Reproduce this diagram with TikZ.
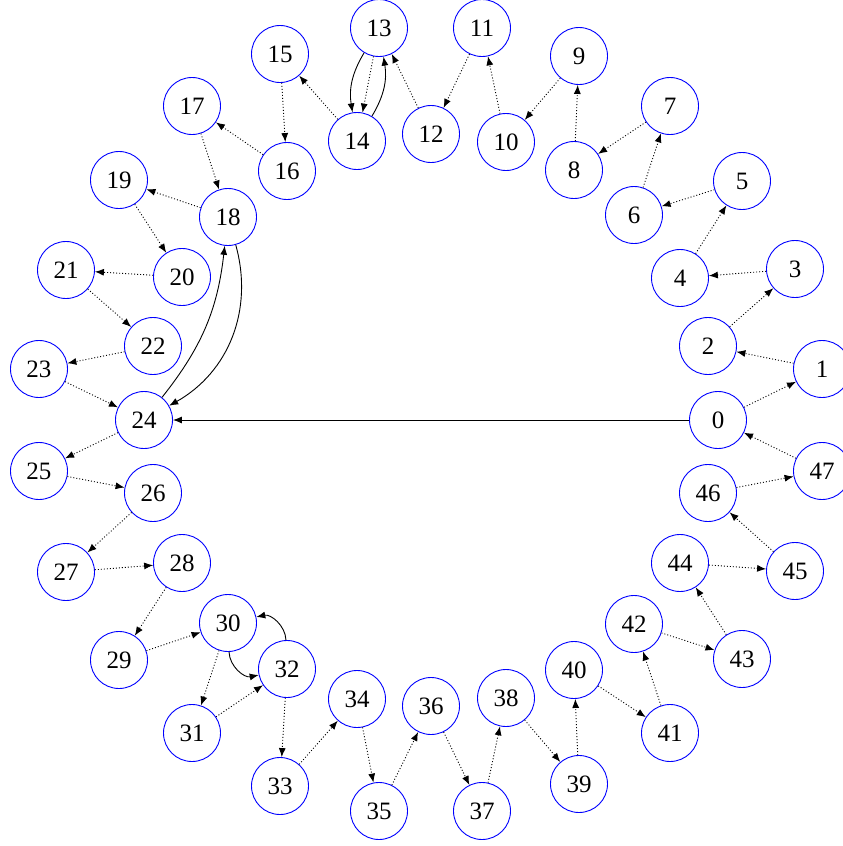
\documentclass[tikz,border=0pt]{standalone}
\usepackage{fontspec}
\setmainfont{Liberation Serif}
\usetikzlibrary{arrows.meta}
\begin{document}
\begin{tikzpicture}[x=1pt,y=-1pt,
  vtx/.style={circle,draw=blue,line width=0.9pt,minimum size=57pt,inner sep=0pt,font=\fontsize{25}{30}\selectfont},
  dotedge/.style={line width=0.9pt,dash pattern=on 1pt off 2pt,-{Latex[length=9pt,width=7pt]}},
  soledge/.style={line width=0.9pt,-{Latex[length=9pt,width=7pt]}}]
\useasboundingbox (0,0) rectangle (843,846);
\foreach \n/\x/\y in {0/718/420,1/822/369,2/708/346,3/795/269,4/680/278,5/742/181,6/634/215,7/670/106,8/574/170,9/579/56,10/506/142,11/482/28,12/431/134,13/379/28,14/357/141,15/280/54,16/287/171,17/192/106,18/228/217,19/119/180,20/182/277,21/66/270,22/153/346,23/39/369,24/144/420,25/39/471,26/153/493,27/66/572,28/182/563,29/119/660,30/228/623,31/192/733,32/287/669,33/280/786,34/357/699,35/379/811,36/431/706,37/482/811,38/506/698,39/579/784,40/574/670,41/670/733,42/634/624,43/742/659,44/680/563,45/795/571,46/708/493,47/822/471}
  \node[vtx] (n\n) at (\x,\y) {\n};
\foreach \a in {0,...,46}{
  \pgfmathtruncatemacro\b{\a+1}
  \draw[dotedge] (n\a) -- (n\b);
}
\draw[dotedge] (n47) -- (n0);
\draw[soledge] (n0) -- (n24);
\draw[soledge] (n13) to[bend right=20] (n14);
\draw[soledge] (n14) to[bend right=20] (n13);
\draw[soledge] (n18) to[bend left=38] (n24);
\draw[soledge] (n24) to[bend right=16] (n18);
\draw[soledge] (n32) to[bend right=50] (n30);
\draw[soledge] (n30) to[bend right=50] (n32);
\end{tikzpicture}
\end{document}
